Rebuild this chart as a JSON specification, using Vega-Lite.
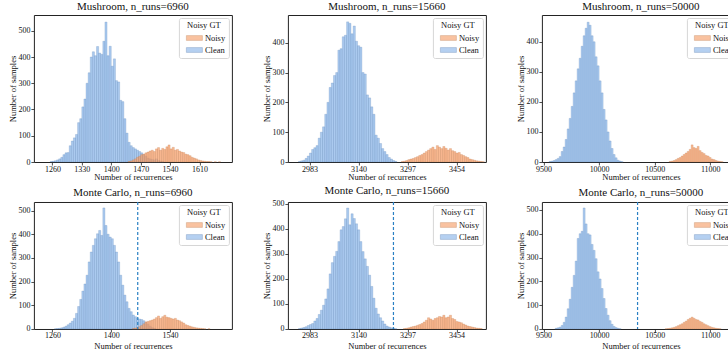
{
"$schema": "https://vega.github.io/schema/vega-lite/v6.json",
"background": "white",
"padding": {"left": 7.9, "top": 0, "right": 0, "bottom": 0},
"datasets": {
"thr": [{"p":4,"t":1463},{"p":5,"t":3252},{"p":6,"t":10346}],
"bins": [
{"p":1,"g":"Clean","a":1255,"b":1260,"n":2},{"p":1,"g":"Clean","a":1260,"b":1265,"n":3},{"p":1,"g":"Clean","a":1265,"b":1270,"n":5},{"p":1,"g":"Clean","a":1270,"b":1275,"n":8},{"p":1,"g":"Clean","a":1275,"b":1280,"n":12},{"p":1,"g":"Clean","a":1280,"b":1285,"n":18},{"p":1,"g":"Clean","a":1285,"b":1290,"n":28},{"p":1,"g":"Clean","a":1290,"b":1295,"n":35},{"p":1,"g":"Clean","a":1295,"b":1300,"n":36},{"p":1,"g":"Clean","a":1300,"b":1305,"n":62},{"p":1,"g":"Clean","a":1305,"b":1310,"n":80},{"p":1,"g":"Clean","a":1310,"b":1315,"n":92},{"p":1,"g":"Clean","a":1315,"b":1320,"n":105},{"p":1,"g":"Clean","a":1320,"b":1325,"n":150},{"p":1,"g":"Clean","a":1325,"b":1330,"n":165},{"p":1,"g":"Clean","a":1330,"b":1335,"n":210},{"p":1,"g":"Clean","a":1335,"b":1340,"n":240},{"p":1,"g":"Clean","a":1340,"b":1345,"n":300},{"p":1,"g":"Clean","a":1345,"b":1350,"n":340},{"p":1,"g":"Clean","a":1350,"b":1355,"n":400},{"p":1,"g":"Clean","a":1355,"b":1360,"n":420},{"p":1,"g":"Clean","a":1360,"b":1365,"n":405},{"p":1,"g":"Clean","a":1365,"b":1370,"n":440},{"p":1,"g":"Clean","a":1370,"b":1375,"n":415},{"p":1,"g":"Clean","a":1375,"b":1380,"n":410},{"p":1,"g":"Clean","a":1380,"b":1385,"n":460},{"p":1,"g":"Clean","a":1385,"b":1390,"n":533},{"p":1,"g":"Clean","a":1390,"b":1395,"n":405},{"p":1,"g":"Clean","a":1395,"b":1400,"n":441},{"p":1,"g":"Clean","a":1400,"b":1405,"n":365},{"p":1,"g":"Clean","a":1405,"b":1410,"n":393},{"p":1,"g":"Clean","a":1410,"b":1415,"n":310},{"p":1,"g":"Clean","a":1415,"b":1420,"n":305},{"p":1,"g":"Clean","a":1420,"b":1425,"n":235},{"p":1,"g":"Clean","a":1425,"b":1430,"n":230},{"p":1,"g":"Clean","a":1430,"b":1435,"n":165},{"p":1,"g":"Clean","a":1435,"b":1440,"n":110},{"p":1,"g":"Clean","a":1440,"b":1445,"n":75},{"p":1,"g":"Clean","a":1445,"b":1450,"n":62},{"p":1,"g":"Clean","a":1450,"b":1455,"n":55},{"p":1,"g":"Clean","a":1455,"b":1460,"n":50},{"p":1,"g":"Clean","a":1460,"b":1465,"n":45},{"p":1,"g":"Clean","a":1465,"b":1470,"n":40},{"p":1,"g":"Clean","a":1470,"b":1475,"n":35},{"p":1,"g":"Clean","a":1475,"b":1480,"n":28},{"p":1,"g":"Clean","a":1480,"b":1485,"n":22},{"p":1,"g":"Clean","a":1485,"b":1490,"n":15},{"p":1,"g":"Clean","a":1490,"b":1495,"n":12},{"p":1,"g":"Clean","a":1495,"b":1500,"n":10},{"p":1,"g":"Clean","a":1500,"b":1505,"n":8},{"p":1,"g":"Clean","a":1505,"b":1510,"n":12},{"p":1,"g":"Clean","a":1510,"b":1515,"n":6},{"p":1,"g":"Clean","a":1515,"b":1520,"n":3},{"p":1,"g":"Clean","a":1520,"b":1525,"n":2},
{"p":1,"g":"Noisy","a":1440,"b":1445,"n":2},{"p":1,"g":"Noisy","a":1445,"b":1450,"n":4},{"p":1,"g":"Noisy","a":1450,"b":1455,"n":8},{"p":1,"g":"Noisy","a":1455,"b":1460,"n":12},{"p":1,"g":"Noisy","a":1460,"b":1465,"n":18},{"p":1,"g":"Noisy","a":1465,"b":1470,"n":22},{"p":1,"g":"Noisy","a":1470,"b":1475,"n":28},{"p":1,"g":"Noisy","a":1475,"b":1480,"n":30},{"p":1,"g":"Noisy","a":1480,"b":1485,"n":35},{"p":1,"g":"Noisy","a":1485,"b":1490,"n":38},{"p":1,"g":"Noisy","a":1490,"b":1495,"n":42},{"p":1,"g":"Noisy","a":1495,"b":1500,"n":45},{"p":1,"g":"Noisy","a":1500,"b":1505,"n":40},{"p":1,"g":"Noisy","a":1505,"b":1510,"n":50},{"p":1,"g":"Noisy","a":1510,"b":1515,"n":55},{"p":1,"g":"Noisy","a":1515,"b":1520,"n":45},{"p":1,"g":"Noisy","a":1520,"b":1525,"n":52},{"p":1,"g":"Noisy","a":1525,"b":1530,"n":48},{"p":1,"g":"Noisy","a":1530,"b":1535,"n":58},{"p":1,"g":"Noisy","a":1535,"b":1540,"n":65},{"p":1,"g":"Noisy","a":1540,"b":1545,"n":50},{"p":1,"g":"Noisy","a":1545,"b":1550,"n":56},{"p":1,"g":"Noisy","a":1550,"b":1555,"n":45},{"p":1,"g":"Noisy","a":1555,"b":1560,"n":48},{"p":1,"g":"Noisy","a":1560,"b":1565,"n":42},{"p":1,"g":"Noisy","a":1565,"b":1570,"n":38},{"p":1,"g":"Noisy","a":1570,"b":1575,"n":36},{"p":1,"g":"Noisy","a":1575,"b":1580,"n":30},{"p":1,"g":"Noisy","a":1580,"b":1585,"n":28},{"p":1,"g":"Noisy","a":1585,"b":1590,"n":24},{"p":1,"g":"Noisy","a":1590,"b":1595,"n":18},{"p":1,"g":"Noisy","a":1595,"b":1600,"n":15},{"p":1,"g":"Noisy","a":1600,"b":1605,"n":12},{"p":1,"g":"Noisy","a":1605,"b":1610,"n":8},{"p":1,"g":"Noisy","a":1610,"b":1615,"n":6},{"p":1,"g":"Noisy","a":1615,"b":1620,"n":4},{"p":1,"g":"Noisy","a":1620,"b":1625,"n":3},{"p":1,"g":"Noisy","a":1625,"b":1630,"n":2},{"p":1,"g":"Noisy","a":1630,"b":1635,"n":2},{"p":1,"g":"Noisy","a":1635,"b":1640,"n":1},{"p":1,"g":"Noisy","a":1645,"b":1650,"n":1},{"p":1,"g":"Noisy","a":1655,"b":1660,"n":1},
{"p":2,"g":"Clean","a":2948,"b":2955,"n":2},{"p":2,"g":"Clean","a":2955,"b":2962,"n":4},{"p":2,"g":"Clean","a":2962,"b":2969,"n":6},{"p":2,"g":"Clean","a":2969,"b":2976,"n":12},{"p":2,"g":"Clean","a":2976,"b":2983,"n":20},{"p":2,"g":"Clean","a":2983,"b":2990,"n":30},{"p":2,"g":"Clean","a":2990,"b":2997,"n":42},{"p":2,"g":"Clean","a":2997,"b":3004,"n":48},{"p":2,"g":"Clean","a":3004,"b":3011,"n":55},{"p":2,"g":"Clean","a":3011,"b":3018,"n":80},{"p":2,"g":"Clean","a":3018,"b":3025,"n":100},{"p":2,"g":"Clean","a":3025,"b":3032,"n":118},{"p":2,"g":"Clean","a":3032,"b":3039,"n":160},{"p":2,"g":"Clean","a":3039,"b":3046,"n":200},{"p":2,"g":"Clean","a":3046,"b":3053,"n":250},{"p":2,"g":"Clean","a":3053,"b":3060,"n":265},{"p":2,"g":"Clean","a":3060,"b":3067,"n":290},{"p":2,"g":"Clean","a":3067,"b":3074,"n":300},{"p":2,"g":"Clean","a":3074,"b":3081,"n":375},{"p":2,"g":"Clean","a":3081,"b":3088,"n":380},{"p":2,"g":"Clean","a":3088,"b":3095,"n":420},{"p":2,"g":"Clean","a":3095,"b":3102,"n":425},{"p":2,"g":"Clean","a":3102,"b":3109,"n":470},{"p":2,"g":"Clean","a":3109,"b":3116,"n":465},{"p":2,"g":"Clean","a":3116,"b":3123,"n":430},{"p":2,"g":"Clean","a":3123,"b":3130,"n":456},{"p":2,"g":"Clean","a":3130,"b":3137,"n":405},{"p":2,"g":"Clean","a":3137,"b":3144,"n":390},{"p":2,"g":"Clean","a":3144,"b":3151,"n":385},{"p":2,"g":"Clean","a":3151,"b":3158,"n":300},{"p":2,"g":"Clean","a":3158,"b":3165,"n":295},{"p":2,"g":"Clean","a":3165,"b":3172,"n":225},{"p":2,"g":"Clean","a":3172,"b":3179,"n":215},{"p":2,"g":"Clean","a":3179,"b":3186,"n":185},{"p":2,"g":"Clean","a":3186,"b":3193,"n":160},{"p":2,"g":"Clean","a":3193,"b":3200,"n":90},{"p":2,"g":"Clean","a":3200,"b":3207,"n":80},{"p":2,"g":"Clean","a":3207,"b":3214,"n":62},{"p":2,"g":"Clean","a":3214,"b":3221,"n":45},{"p":2,"g":"Clean","a":3221,"b":3228,"n":35},{"p":2,"g":"Clean","a":3228,"b":3235,"n":25},{"p":2,"g":"Clean","a":3235,"b":3242,"n":15},{"p":2,"g":"Clean","a":3242,"b":3249,"n":10},{"p":2,"g":"Clean","a":3249,"b":3256,"n":5},{"p":2,"g":"Clean","a":3256,"b":3263,"n":2},
{"p":2,"g":"Noisy","a":3277,"b":3284,"n":2},{"p":2,"g":"Noisy","a":3284,"b":3291,"n":3},{"p":2,"g":"Noisy","a":3291,"b":3298,"n":5},{"p":2,"g":"Noisy","a":3298,"b":3305,"n":8},{"p":2,"g":"Noisy","a":3305,"b":3312,"n":10},{"p":2,"g":"Noisy","a":3312,"b":3319,"n":12},{"p":2,"g":"Noisy","a":3319,"b":3326,"n":15},{"p":2,"g":"Noisy","a":3326,"b":3333,"n":18},{"p":2,"g":"Noisy","a":3333,"b":3340,"n":22},{"p":2,"g":"Noisy","a":3340,"b":3347,"n":25},{"p":2,"g":"Noisy","a":3347,"b":3354,"n":30},{"p":2,"g":"Noisy","a":3354,"b":3361,"n":35},{"p":2,"g":"Noisy","a":3361,"b":3368,"n":40},{"p":2,"g":"Noisy","a":3368,"b":3375,"n":45},{"p":2,"g":"Noisy","a":3375,"b":3382,"n":50},{"p":2,"g":"Noisy","a":3382,"b":3389,"n":42},{"p":2,"g":"Noisy","a":3389,"b":3396,"n":55},{"p":2,"g":"Noisy","a":3396,"b":3403,"n":50},{"p":2,"g":"Noisy","a":3403,"b":3410,"n":45},{"p":2,"g":"Noisy","a":3410,"b":3417,"n":52},{"p":2,"g":"Noisy","a":3417,"b":3424,"n":46},{"p":2,"g":"Noisy","a":3424,"b":3431,"n":40},{"p":2,"g":"Noisy","a":3431,"b":3438,"n":45},{"p":2,"g":"Noisy","a":3438,"b":3445,"n":38},{"p":2,"g":"Noisy","a":3445,"b":3452,"n":35},{"p":2,"g":"Noisy","a":3452,"b":3459,"n":30},{"p":2,"g":"Noisy","a":3459,"b":3466,"n":32},{"p":2,"g":"Noisy","a":3466,"b":3473,"n":25},{"p":2,"g":"Noisy","a":3473,"b":3480,"n":22},{"p":2,"g":"Noisy","a":3480,"b":3487,"n":18},{"p":2,"g":"Noisy","a":3487,"b":3494,"n":15},{"p":2,"g":"Noisy","a":3494,"b":3501,"n":10},{"p":2,"g":"Noisy","a":3501,"b":3508,"n":8},{"p":2,"g":"Noisy","a":3508,"b":3515,"n":6},{"p":2,"g":"Noisy","a":3515,"b":3522,"n":4},{"p":2,"g":"Noisy","a":3522,"b":3529,"n":3},{"p":2,"g":"Noisy","a":3529,"b":3536,"n":2},{"p":2,"g":"Noisy","a":3536,"b":3543,"n":1},
{"p":3,"g":"Clean","a":9550,"b":9568,"n":2},{"p":3,"g":"Clean","a":9568,"b":9586,"n":3},{"p":3,"g":"Clean","a":9586,"b":9604,"n":5},{"p":3,"g":"Clean","a":9604,"b":9622,"n":8},{"p":3,"g":"Clean","a":9622,"b":9640,"n":12},{"p":3,"g":"Clean","a":9640,"b":9658,"n":18},{"p":3,"g":"Clean","a":9658,"b":9676,"n":35},{"p":3,"g":"Clean","a":9676,"b":9694,"n":50},{"p":3,"g":"Clean","a":9694,"b":9712,"n":75},{"p":3,"g":"Clean","a":9712,"b":9730,"n":110},{"p":3,"g":"Clean","a":9730,"b":9748,"n":145},{"p":3,"g":"Clean","a":9748,"b":9766,"n":185},{"p":3,"g":"Clean","a":9766,"b":9784,"n":230},{"p":3,"g":"Clean","a":9784,"b":9802,"n":270},{"p":3,"g":"Clean","a":9802,"b":9820,"n":310},{"p":3,"g":"Clean","a":9820,"b":9838,"n":345},{"p":3,"g":"Clean","a":9838,"b":9856,"n":385},{"p":3,"g":"Clean","a":9856,"b":9874,"n":420},{"p":3,"g":"Clean","a":9874,"b":9892,"n":445},{"p":3,"g":"Clean","a":9892,"b":9910,"n":465},{"p":3,"g":"Clean","a":9910,"b":9928,"n":455},{"p":3,"g":"Clean","a":9928,"b":9946,"n":420},{"p":3,"g":"Clean","a":9946,"b":9964,"n":400},{"p":3,"g":"Clean","a":9964,"b":9982,"n":350},{"p":3,"g":"Clean","a":9982,"b":10000,"n":320},{"p":3,"g":"Clean","a":10000,"b":10018,"n":270},{"p":3,"g":"Clean","a":10018,"b":10036,"n":230},{"p":3,"g":"Clean","a":10036,"b":10054,"n":175},{"p":3,"g":"Clean","a":10054,"b":10072,"n":140},{"p":3,"g":"Clean","a":10072,"b":10090,"n":100},{"p":3,"g":"Clean","a":10090,"b":10108,"n":70},{"p":3,"g":"Clean","a":10108,"b":10126,"n":45},{"p":3,"g":"Clean","a":10126,"b":10144,"n":25},{"p":3,"g":"Clean","a":10144,"b":10162,"n":14},{"p":3,"g":"Clean","a":10162,"b":10180,"n":6},{"p":3,"g":"Clean","a":10180,"b":10198,"n":3},{"p":3,"g":"Clean","a":10198,"b":10216,"n":1},
{"p":3,"g":"Noisy","a":10630,"b":10648,"n":2},{"p":3,"g":"Noisy","a":10648,"b":10666,"n":3},{"p":3,"g":"Noisy","a":10666,"b":10684,"n":5},{"p":3,"g":"Noisy","a":10684,"b":10702,"n":8},{"p":3,"g":"Noisy","a":10702,"b":10720,"n":12},{"p":3,"g":"Noisy","a":10720,"b":10738,"n":15},{"p":3,"g":"Noisy","a":10738,"b":10756,"n":20},{"p":3,"g":"Noisy","a":10756,"b":10774,"n":25},{"p":3,"g":"Noisy","a":10774,"b":10792,"n":30},{"p":3,"g":"Noisy","a":10792,"b":10810,"n":35},{"p":3,"g":"Noisy","a":10810,"b":10828,"n":42},{"p":3,"g":"Noisy","a":10828,"b":10846,"n":57},{"p":3,"g":"Noisy","a":10846,"b":10864,"n":48},{"p":3,"g":"Noisy","a":10864,"b":10882,"n":45},{"p":3,"g":"Noisy","a":10882,"b":10900,"n":52},{"p":3,"g":"Noisy","a":10900,"b":10918,"n":38},{"p":3,"g":"Noisy","a":10918,"b":10936,"n":32},{"p":3,"g":"Noisy","a":10936,"b":10954,"n":28},{"p":3,"g":"Noisy","a":10954,"b":10972,"n":22},{"p":3,"g":"Noisy","a":10972,"b":10990,"n":20},{"p":3,"g":"Noisy","a":10990,"b":11008,"n":15},{"p":3,"g":"Noisy","a":11008,"b":11026,"n":10},{"p":3,"g":"Noisy","a":11026,"b":11044,"n":8},{"p":3,"g":"Noisy","a":11044,"b":11062,"n":5},{"p":3,"g":"Noisy","a":11062,"b":11080,"n":3},{"p":3,"g":"Noisy","a":11080,"b":11098,"n":2},{"p":3,"g":"Noisy","a":11098,"b":11116,"n":1},
{"p":4,"g":"Clean","a":1265,"b":1270,"n":1},{"p":4,"g":"Clean","a":1270,"b":1275,"n":2},{"p":4,"g":"Clean","a":1275,"b":1280,"n":3},{"p":4,"g":"Clean","a":1280,"b":1285,"n":5},{"p":4,"g":"Clean","a":1285,"b":1290,"n":8},{"p":4,"g":"Clean","a":1290,"b":1295,"n":12},{"p":4,"g":"Clean","a":1295,"b":1300,"n":18},{"p":4,"g":"Clean","a":1300,"b":1305,"n":25},{"p":4,"g":"Clean","a":1305,"b":1310,"n":33},{"p":4,"g":"Clean","a":1310,"b":1315,"n":45},{"p":4,"g":"Clean","a":1315,"b":1320,"n":66},{"p":4,"g":"Clean","a":1320,"b":1325,"n":95},{"p":4,"g":"Clean","a":1325,"b":1330,"n":125},{"p":4,"g":"Clean","a":1330,"b":1335,"n":160},{"p":4,"g":"Clean","a":1335,"b":1340,"n":190},{"p":4,"g":"Clean","a":1340,"b":1345,"n":227},{"p":4,"g":"Clean","a":1345,"b":1350,"n":283},{"p":4,"g":"Clean","a":1350,"b":1355,"n":325},{"p":4,"g":"Clean","a":1355,"b":1360,"n":353},{"p":4,"g":"Clean","a":1360,"b":1365,"n":381},{"p":4,"g":"Clean","a":1365,"b":1370,"n":402},{"p":4,"g":"Clean","a":1370,"b":1375,"n":416},{"p":4,"g":"Clean","a":1375,"b":1380,"n":395},{"p":4,"g":"Clean","a":1380,"b":1385,"n":511},{"p":4,"g":"Clean","a":1385,"b":1390,"n":437},{"p":4,"g":"Clean","a":1390,"b":1395,"n":400},{"p":4,"g":"Clean","a":1395,"b":1400,"n":388},{"p":4,"g":"Clean","a":1400,"b":1405,"n":381},{"p":4,"g":"Clean","a":1405,"b":1410,"n":353},{"p":4,"g":"Clean","a":1410,"b":1415,"n":325},{"p":4,"g":"Clean","a":1415,"b":1420,"n":283},{"p":4,"g":"Clean","a":1420,"b":1425,"n":227},{"p":4,"g":"Clean","a":1425,"b":1430,"n":185},{"p":4,"g":"Clean","a":1430,"b":1435,"n":143},{"p":4,"g":"Clean","a":1435,"b":1440,"n":115},{"p":4,"g":"Clean","a":1440,"b":1445,"n":87},{"p":4,"g":"Clean","a":1445,"b":1450,"n":73},{"p":4,"g":"Clean","a":1450,"b":1455,"n":59},{"p":4,"g":"Clean","a":1455,"b":1460,"n":52},{"p":4,"g":"Clean","a":1460,"b":1465,"n":45},{"p":4,"g":"Clean","a":1465,"b":1470,"n":42},{"p":4,"g":"Clean","a":1470,"b":1475,"n":40},{"p":4,"g":"Clean","a":1475,"b":1480,"n":35},{"p":4,"g":"Clean","a":1480,"b":1485,"n":28},{"p":4,"g":"Clean","a":1485,"b":1490,"n":20},{"p":4,"g":"Clean","a":1490,"b":1495,"n":12},{"p":4,"g":"Clean","a":1495,"b":1500,"n":6},{"p":4,"g":"Clean","a":1500,"b":1505,"n":3},
{"p":4,"g":"Noisy","a":1450,"b":1455,"n":2},{"p":4,"g":"Noisy","a":1455,"b":1460,"n":4},{"p":4,"g":"Noisy","a":1460,"b":1465,"n":6},{"p":4,"g":"Noisy","a":1465,"b":1470,"n":10},{"p":4,"g":"Noisy","a":1470,"b":1475,"n":15},{"p":4,"g":"Noisy","a":1475,"b":1480,"n":22},{"p":4,"g":"Noisy","a":1480,"b":1485,"n":30},{"p":4,"g":"Noisy","a":1485,"b":1490,"n":32},{"p":4,"g":"Noisy","a":1490,"b":1495,"n":35},{"p":4,"g":"Noisy","a":1495,"b":1500,"n":38},{"p":4,"g":"Noisy","a":1500,"b":1505,"n":42},{"p":4,"g":"Noisy","a":1505,"b":1510,"n":48},{"p":4,"g":"Noisy","a":1510,"b":1515,"n":55},{"p":4,"g":"Noisy","a":1515,"b":1520,"n":45},{"p":4,"g":"Noisy","a":1520,"b":1525,"n":52},{"p":4,"g":"Noisy","a":1525,"b":1530,"n":58},{"p":4,"g":"Noisy","a":1530,"b":1535,"n":50},{"p":4,"g":"Noisy","a":1535,"b":1540,"n":48},{"p":4,"g":"Noisy","a":1540,"b":1545,"n":45},{"p":4,"g":"Noisy","a":1545,"b":1550,"n":42},{"p":4,"g":"Noisy","a":1550,"b":1555,"n":45},{"p":4,"g":"Noisy","a":1555,"b":1560,"n":38},{"p":4,"g":"Noisy","a":1560,"b":1565,"n":35},{"p":4,"g":"Noisy","a":1565,"b":1570,"n":30},{"p":4,"g":"Noisy","a":1570,"b":1575,"n":25},{"p":4,"g":"Noisy","a":1575,"b":1580,"n":18},{"p":4,"g":"Noisy","a":1580,"b":1585,"n":15},{"p":4,"g":"Noisy","a":1585,"b":1590,"n":12},{"p":4,"g":"Noisy","a":1590,"b":1595,"n":9},{"p":4,"g":"Noisy","a":1595,"b":1600,"n":7},{"p":4,"g":"Noisy","a":1600,"b":1605,"n":5},{"p":4,"g":"Noisy","a":1605,"b":1610,"n":4},{"p":4,"g":"Noisy","a":1610,"b":1615,"n":3},{"p":4,"g":"Noisy","a":1615,"b":1620,"n":2},{"p":4,"g":"Noisy","a":1620,"b":1625,"n":1},{"p":4,"g":"Noisy","a":1630,"b":1635,"n":1},
{"p":5,"g":"Clean","a":2948,"b":2955,"n":2},{"p":5,"g":"Clean","a":2955,"b":2962,"n":4},{"p":5,"g":"Clean","a":2962,"b":2969,"n":6},{"p":5,"g":"Clean","a":2969,"b":2976,"n":9},{"p":5,"g":"Clean","a":2976,"b":2983,"n":14},{"p":5,"g":"Clean","a":2983,"b":2990,"n":18},{"p":5,"g":"Clean","a":2990,"b":2997,"n":22},{"p":5,"g":"Clean","a":2997,"b":3004,"n":32},{"p":5,"g":"Clean","a":3004,"b":3011,"n":42},{"p":5,"g":"Clean","a":3011,"b":3018,"n":58},{"p":5,"g":"Clean","a":3018,"b":3025,"n":75},{"p":5,"g":"Clean","a":3025,"b":3032,"n":95},{"p":5,"g":"Clean","a":3032,"b":3039,"n":120},{"p":5,"g":"Clean","a":3039,"b":3046,"n":160},{"p":5,"g":"Clean","a":3046,"b":3053,"n":220},{"p":5,"g":"Clean","a":3053,"b":3060,"n":265},{"p":5,"g":"Clean","a":3060,"b":3067,"n":290},{"p":5,"g":"Clean","a":3067,"b":3074,"n":310},{"p":5,"g":"Clean","a":3074,"b":3081,"n":349},{"p":5,"g":"Clean","a":3081,"b":3088,"n":396},{"p":5,"g":"Clean","a":3088,"b":3095,"n":409},{"p":5,"g":"Clean","a":3095,"b":3102,"n":440},{"p":5,"g":"Clean","a":3102,"b":3109,"n":483},{"p":5,"g":"Clean","a":3109,"b":3116,"n":416},{"p":5,"g":"Clean","a":3116,"b":3123,"n":460},{"p":5,"g":"Clean","a":3123,"b":3130,"n":441},{"p":5,"g":"Clean","a":3130,"b":3137,"n":420},{"p":5,"g":"Clean","a":3137,"b":3144,"n":396},{"p":5,"g":"Clean","a":3144,"b":3151,"n":349},{"p":5,"g":"Clean","a":3151,"b":3158,"n":309},{"p":5,"g":"Clean","a":3158,"b":3165,"n":280},{"p":5,"g":"Clean","a":3165,"b":3172,"n":250},{"p":5,"g":"Clean","a":3172,"b":3179,"n":215},{"p":5,"g":"Clean","a":3179,"b":3186,"n":170},{"p":5,"g":"Clean","a":3186,"b":3193,"n":123},{"p":5,"g":"Clean","a":3193,"b":3200,"n":83},{"p":5,"g":"Clean","a":3200,"b":3207,"n":60},{"p":5,"g":"Clean","a":3207,"b":3214,"n":45},{"p":5,"g":"Clean","a":3214,"b":3221,"n":32},{"p":5,"g":"Clean","a":3221,"b":3228,"n":20},{"p":5,"g":"Clean","a":3228,"b":3235,"n":12},{"p":5,"g":"Clean","a":3235,"b":3242,"n":8},{"p":5,"g":"Clean","a":3242,"b":3249,"n":5},{"p":5,"g":"Clean","a":3249,"b":3256,"n":3},{"p":5,"g":"Clean","a":3256,"b":3263,"n":1},
{"p":5,"g":"Noisy","a":3284,"b":3291,"n":2},{"p":5,"g":"Noisy","a":3291,"b":3298,"n":3},{"p":5,"g":"Noisy","a":3298,"b":3305,"n":5},{"p":5,"g":"Noisy","a":3305,"b":3312,"n":8},{"p":5,"g":"Noisy","a":3312,"b":3319,"n":10},{"p":5,"g":"Noisy","a":3319,"b":3326,"n":12},{"p":5,"g":"Noisy","a":3326,"b":3333,"n":15},{"p":5,"g":"Noisy","a":3333,"b":3340,"n":18},{"p":5,"g":"Noisy","a":3340,"b":3347,"n":22},{"p":5,"g":"Noisy","a":3347,"b":3354,"n":28},{"p":5,"g":"Noisy","a":3354,"b":3361,"n":35},{"p":5,"g":"Noisy","a":3361,"b":3368,"n":45},{"p":5,"g":"Noisy","a":3368,"b":3375,"n":40},{"p":5,"g":"Noisy","a":3375,"b":3382,"n":35},{"p":5,"g":"Noisy","a":3382,"b":3389,"n":42},{"p":5,"g":"Noisy","a":3389,"b":3396,"n":45},{"p":5,"g":"Noisy","a":3396,"b":3403,"n":50},{"p":5,"g":"Noisy","a":3403,"b":3410,"n":48},{"p":5,"g":"Noisy","a":3410,"b":3417,"n":55},{"p":5,"g":"Noisy","a":3417,"b":3424,"n":45},{"p":5,"g":"Noisy","a":3424,"b":3431,"n":48},{"p":5,"g":"Noisy","a":3431,"b":3438,"n":55},{"p":5,"g":"Noisy","a":3438,"b":3445,"n":42},{"p":5,"g":"Noisy","a":3445,"b":3452,"n":38},{"p":5,"g":"Noisy","a":3452,"b":3459,"n":30},{"p":5,"g":"Noisy","a":3459,"b":3466,"n":28},{"p":5,"g":"Noisy","a":3466,"b":3473,"n":25},{"p":5,"g":"Noisy","a":3473,"b":3480,"n":20},{"p":5,"g":"Noisy","a":3480,"b":3487,"n":16},{"p":5,"g":"Noisy","a":3487,"b":3494,"n":12},{"p":5,"g":"Noisy","a":3494,"b":3501,"n":10},{"p":5,"g":"Noisy","a":3501,"b":3508,"n":8},{"p":5,"g":"Noisy","a":3508,"b":3515,"n":6},{"p":5,"g":"Noisy","a":3515,"b":3522,"n":4},{"p":5,"g":"Noisy","a":3522,"b":3529,"n":3},{"p":5,"g":"Noisy","a":3529,"b":3536,"n":2},
{"p":6,"g":"Clean","a":9604,"b":9622,"n":3},{"p":6,"g":"Clean","a":9622,"b":9640,"n":5},{"p":6,"g":"Clean","a":9640,"b":9658,"n":8},{"p":6,"g":"Clean","a":9658,"b":9676,"n":15},{"p":6,"g":"Clean","a":9676,"b":9694,"n":28},{"p":6,"g":"Clean","a":9694,"b":9712,"n":50},{"p":6,"g":"Clean","a":9712,"b":9730,"n":85},{"p":6,"g":"Clean","a":9730,"b":9748,"n":125},{"p":6,"g":"Clean","a":9748,"b":9766,"n":175},{"p":6,"g":"Clean","a":9766,"b":9784,"n":225},{"p":6,"g":"Clean","a":9784,"b":9802,"n":285},{"p":6,"g":"Clean","a":9802,"b":9820,"n":380},{"p":6,"g":"Clean","a":9820,"b":9838,"n":400},{"p":6,"g":"Clean","a":9838,"b":9856,"n":410},{"p":6,"g":"Clean","a":9856,"b":9874,"n":508},{"p":6,"g":"Clean","a":9874,"b":9892,"n":441},{"p":6,"g":"Clean","a":9892,"b":9910,"n":400},{"p":6,"g":"Clean","a":9910,"b":9928,"n":395},{"p":6,"g":"Clean","a":9928,"b":9946,"n":355},{"p":6,"g":"Clean","a":9946,"b":9964,"n":330},{"p":6,"g":"Clean","a":9964,"b":9982,"n":295},{"p":6,"g":"Clean","a":9982,"b":10000,"n":240},{"p":6,"g":"Clean","a":10000,"b":10018,"n":210},{"p":6,"g":"Clean","a":10018,"b":10036,"n":170},{"p":6,"g":"Clean","a":10036,"b":10054,"n":128},{"p":6,"g":"Clean","a":10054,"b":10072,"n":86},{"p":6,"g":"Clean","a":10072,"b":10090,"n":58},{"p":6,"g":"Clean","a":10090,"b":10108,"n":35},{"p":6,"g":"Clean","a":10108,"b":10126,"n":20},{"p":6,"g":"Clean","a":10126,"b":10144,"n":11},{"p":6,"g":"Clean","a":10144,"b":10162,"n":6},{"p":6,"g":"Clean","a":10162,"b":10180,"n":3},{"p":6,"g":"Clean","a":10180,"b":10198,"n":1},
{"p":6,"g":"Noisy","a":10594,"b":10612,"n":1},{"p":6,"g":"Noisy","a":10612,"b":10630,"n":2},{"p":6,"g":"Noisy","a":10630,"b":10648,"n":3},{"p":6,"g":"Noisy","a":10648,"b":10666,"n":5},{"p":6,"g":"Noisy","a":10666,"b":10684,"n":7},{"p":6,"g":"Noisy","a":10684,"b":10702,"n":10},{"p":6,"g":"Noisy","a":10702,"b":10720,"n":14},{"p":6,"g":"Noisy","a":10720,"b":10738,"n":18},{"p":6,"g":"Noisy","a":10738,"b":10756,"n":22},{"p":6,"g":"Noisy","a":10756,"b":10774,"n":28},{"p":6,"g":"Noisy","a":10774,"b":10792,"n":33},{"p":6,"g":"Noisy","a":10792,"b":10810,"n":40},{"p":6,"g":"Noisy","a":10810,"b":10828,"n":45},{"p":6,"g":"Noisy","a":10828,"b":10846,"n":50},{"p":6,"g":"Noisy","a":10846,"b":10864,"n":45},{"p":6,"g":"Noisy","a":10864,"b":10882,"n":40},{"p":6,"g":"Noisy","a":10882,"b":10900,"n":38},{"p":6,"g":"Noisy","a":10900,"b":10918,"n":32},{"p":6,"g":"Noisy","a":10918,"b":10936,"n":28},{"p":6,"g":"Noisy","a":10936,"b":10954,"n":22},{"p":6,"g":"Noisy","a":10954,"b":10972,"n":18},{"p":6,"g":"Noisy","a":10972,"b":10990,"n":14},{"p":6,"g":"Noisy","a":10990,"b":11008,"n":10},{"p":6,"g":"Noisy","a":11008,"b":11026,"n":7},{"p":6,"g":"Noisy","a":11026,"b":11044,"n":5},{"p":6,"g":"Noisy","a":11044,"b":11062,"n":3},{"p":6,"g":"Noisy","a":11062,"b":11080,"n":2},{"p":6,"g":"Noisy","a":11080,"b":11098,"n":1}
]
},
"config": {
"font": "Liberation Serif",
"view": {"stroke": "#222222", "strokeWidth": 1},
"axis": {"domain": false, "grid": false, "tickColor": "#222222", "tickSize": 3, "tickWidth": 0.8, "labelFont": "Liberation Serif", "labelFontSize": 8, "labelColor": "#111111", "labelPadding": 1, "titleFont": "Liberation Serif", "titleFontSize": 8.5, "titleFontWeight": "normal", "titleColor": "#111111"},
"axisX": {"titlePadding": 0, "labelPadding": 0, "format": "d"},
"axisY": {"titlePadding": 0},
"title": {"font": "Liberation Serif", "fontSize": 11, "fontWeight": 400, "offset": 3.5, "color": "#111111"},
"style": {"group-title": {"fontWeight": 400, "fontSize": 11, "font": "Liberation Serif"}},
"legend": {"orient": "top-right", "offset": 3, "titleFont": "Liberation Serif", "titleFontSize": 8.5, "titleFontWeight": "normal", "titleColor": "#111111", "titleAnchor": "middle", "titlePadding": 4, "labelFont": "Liberation Serif", "labelFontSize": 8.5, "labelColor": "#111111", "labelOffset": 10, "symbolOffset": 4, "symbolType": "M-1,-0.6H3V0.6H-1Z", "symbolSize": 64, "symbolStrokeWidth": 0.6, "symbolOpacity": 0.65, "rowPadding": 3, "fillColor": "white", "strokeColor": "#d6d6d6", "cornerRadius": 2, "padding": 3}
},
"spacing": 2,
"resolve": {"scale": {"color": "independent", "stroke": "independent", "x": "independent", "y": "independent"}, "legend": {"color": "independent", "stroke": "independent"}},
"vconcat": [
{"spacing": 29,
 "resolve": {"scale": {"color": "independent", "stroke": "independent", "x": "independent", "y": "independent"}, "legend": {"color": "independent", "stroke": "independent"}},
 "hconcat": [
 {"title": {"text": "Mushroom, n_runs=6960", "fontWeight": 400}, "width": 198, "height": 147,
  "data": {"name": "bins"}, "transform": [{"filter": "datum.p == 1"}],
  "mark": {"type": "bar", "fillOpacity": 0.75, "strokeWidth": 0.5, "strokeOpacity": 0.5},
  "encoding": {
   "x": {"field": "a", "type": "quantitative", "scale": {"domain": [1216, 1687], "nice": false, "zero": false}, "axis": {"values": [1260,1330,1400,1470,1540,1610], "title": "Number of recurrences"}},
   "x2": {"field": "b"},
   "y": {"field": "n", "type": "quantitative", "scale": {"domain": [0, 560], "nice": false}, "axis": {"values": [0,100,200,300,400,500], "title": "Number of samples"}},
   "y2": {"datum": 0},
   "color": {"field": "g", "type": "nominal", "scale": {"domain": ["Noisy","Clean"], "range": ["#f7a26e","#8fb8ea"]}, "legend": {"title": "Noisy GT"}},
   "stroke": {"field": "g", "type": "nominal", "scale": {"domain": ["Noisy","Clean"], "range": ["#c07a4c","#5b82b5"]}, "legend": {"title": "Noisy GT"}}
  }},
 {"title": {"text": "Mushroom, n_runs=15660", "fontWeight": 400}, "width": 198, "height": 147,
  "data": {"name": "bins"}, "transform": [{"filter": "datum.p == 2"}],
  "mark": {"type": "bar", "fillOpacity": 0.75, "strokeWidth": 0.5, "strokeOpacity": 0.5},
  "encoding": {
   "x": {"field": "a", "type": "quantitative", "scale": {"domain": [2914, 3548], "nice": false, "zero": false}, "axis": {"values": [2983,3140,3297,3454], "title": "Number of recurrences"}},
   "x2": {"field": "b"},
   "y": {"field": "n", "type": "quantitative", "scale": {"domain": [0, 493], "nice": false}, "axis": {"values": [0,100,200,300,400], "title": "Number of samples"}},
   "y2": {"datum": 0},
   "color": {"field": "g", "type": "nominal", "scale": {"domain": ["Noisy","Clean"], "range": ["#f7a26e","#8fb8ea"]}, "legend": {"title": "Noisy GT"}},
   "stroke": {"field": "g", "type": "nominal", "scale": {"domain": ["Noisy","Clean"], "range": ["#c07a4c","#5b82b5"]}, "legend": {"title": "Noisy GT"}}
  }},
 {"title": {"text": "Mushroom, n_runs=50000", "fontWeight": 400}, "width": 198, "height": 147,
  "data": {"name": "bins"}, "transform": [{"filter": "datum.p == 3"}],
  "mark": {"type": "bar", "fillOpacity": 0.75, "strokeWidth": 0.5, "strokeOpacity": 0.5},
  "encoding": {
   "x": {"field": "a", "type": "quantitative", "scale": {"domain": [9485, 11267], "nice": false, "zero": false}, "axis": {"values": [9500,10000,10500,11000], "title": "Number of recurrences"}},
   "x2": {"field": "b"},
   "y": {"field": "n", "type": "quantitative", "scale": {"domain": [0, 489], "nice": false}, "axis": {"values": [0,100,200,300,400], "title": "Number of samples"}},
   "y2": {"datum": 0},
   "color": {"field": "g", "type": "nominal", "scale": {"domain": ["Noisy","Clean"], "range": ["#f7a26e","#8fb8ea"]}, "legend": {"title": "Noisy GT"}},
   "stroke": {"field": "g", "type": "nominal", "scale": {"domain": ["Noisy","Clean"], "range": ["#c07a4c","#5b82b5"]}, "legend": {"title": "Noisy GT"}}
  }}
 ]},
{"spacing": 29,
 "resolve": {"scale": {"color": "independent", "stroke": "independent", "x": "independent", "y": "independent"}, "legend": {"color": "independent", "stroke": "independent"}},
 "hconcat": [
 {"title": {"text": "Monte Carlo, n_runs=6960", "fontWeight": 400}, "width": 198, "height": 127,
  "layer": [
   {"data": {"name": "bins"}, "transform": [{"filter": "datum.p == 4"}],
    "mark": {"type": "bar", "fillOpacity": 0.75, "strokeWidth": 0.5, "strokeOpacity": 0.5},
    "encoding": {
     "x": {"field": "a", "type": "quantitative", "scale": {"domain": [1216, 1687], "nice": false, "zero": false}, "axis": {"values": [1260,1330,1400,1470,1540,1610], "title": "Number of recurrences", "titlePadding": 2}},
     "x2": {"field": "b"},
     "y": {"field": "n", "type": "quantitative", "scale": {"domain": [0, 536], "nice": false}, "axis": {"values": [0,100,200,300,400,500], "title": "Number of samples"}},
     "y2": {"datum": 0},
     "color": {"field": "g", "type": "nominal", "scale": {"domain": ["Noisy","Clean"], "range": ["#f7a26e","#8fb8ea"]}, "legend": {"title": "Noisy GT"}},
     "stroke": {"field": "g", "type": "nominal", "scale": {"domain": ["Noisy","Clean"], "range": ["#c07a4c","#5b82b5"]}, "legend": {"title": "Noisy GT"}}
    }},
   {"data": {"name": "thr"}, "transform": [{"filter": "datum.p == 4"}],
    "mark": {"type": "rule", "color": "#2a80c4", "strokeDash": [3, 2], "strokeWidth": 1.2},
    "encoding": {"x": {"field": "t", "type": "quantitative"}}}
  ]},
 {"title": {"text": "Monte Carlo, n_runs=15660", "fontWeight": 400}, "width": 198, "height": 127,
  "layer": [
   {"data": {"name": "bins"}, "transform": [{"filter": "datum.p == 5"}],
    "mark": {"type": "bar", "fillOpacity": 0.75, "strokeWidth": 0.5, "strokeOpacity": 0.5},
    "encoding": {
     "x": {"field": "a", "type": "quantitative", "scale": {"domain": [2914, 3548], "nice": false, "zero": false}, "axis": {"values": [2983,3140,3297,3454], "title": "Number of recurrences", "titlePadding": 2}},
     "x2": {"field": "b"},
     "y": {"field": "n", "type": "quantitative", "scale": {"domain": [0, 507], "nice": false}, "axis": {"values": [0,100,200,300,400,500], "title": "Number of samples"}},
     "y2": {"datum": 0},
     "color": {"field": "g", "type": "nominal", "scale": {"domain": ["Noisy","Clean"], "range": ["#f7a26e","#8fb8ea"]}, "legend": {"title": "Noisy GT"}},
     "stroke": {"field": "g", "type": "nominal", "scale": {"domain": ["Noisy","Clean"], "range": ["#c07a4c","#5b82b5"]}, "legend": {"title": "Noisy GT"}}
    }},
   {"data": {"name": "thr"}, "transform": [{"filter": "datum.p == 5"}],
    "mark": {"type": "rule", "color": "#2a80c4", "strokeDash": [3, 2], "strokeWidth": 1.2},
    "encoding": {"x": {"field": "t", "type": "quantitative"}}}
  ]},
 {"title": {"text": "Monte Carlo, n_runs=50000", "fontWeight": 400}, "width": 198, "height": 127,
  "layer": [
   {"data": {"name": "bins"}, "transform": [{"filter": "datum.p == 6"}],
    "mark": {"type": "bar", "fillOpacity": 0.75, "strokeWidth": 0.5, "strokeOpacity": 0.5},
    "encoding": {
     "x": {"field": "a", "type": "quantitative", "scale": {"domain": [9485, 11267], "nice": false, "zero": false}, "axis": {"values": [9500,10000,10500,11000], "title": "Number of recurrences", "titlePadding": 2}},
     "x2": {"field": "b"},
     "y": {"field": "n", "type": "quantitative", "scale": {"domain": [0, 533], "nice": false}, "axis": {"values": [0,100,200,300,400,500], "title": "Number of samples"}},
     "y2": {"datum": 0},
     "color": {"field": "g", "type": "nominal", "scale": {"domain": ["Noisy","Clean"], "range": ["#f7a26e","#8fb8ea"]}, "legend": {"title": "Noisy GT"}},
     "stroke": {"field": "g", "type": "nominal", "scale": {"domain": ["Noisy","Clean"], "range": ["#c07a4c","#5b82b5"]}, "legend": {"title": "Noisy GT"}}
    }},
   {"data": {"name": "thr"}, "transform": [{"filter": "datum.p == 6"}],
    "mark": {"type": "rule", "color": "#2a80c4", "strokeDash": [3, 2], "strokeWidth": 1.2},
    "encoding": {"x": {"field": "t", "type": "quantitative"}}}
  ]}
 ]}
]
}
